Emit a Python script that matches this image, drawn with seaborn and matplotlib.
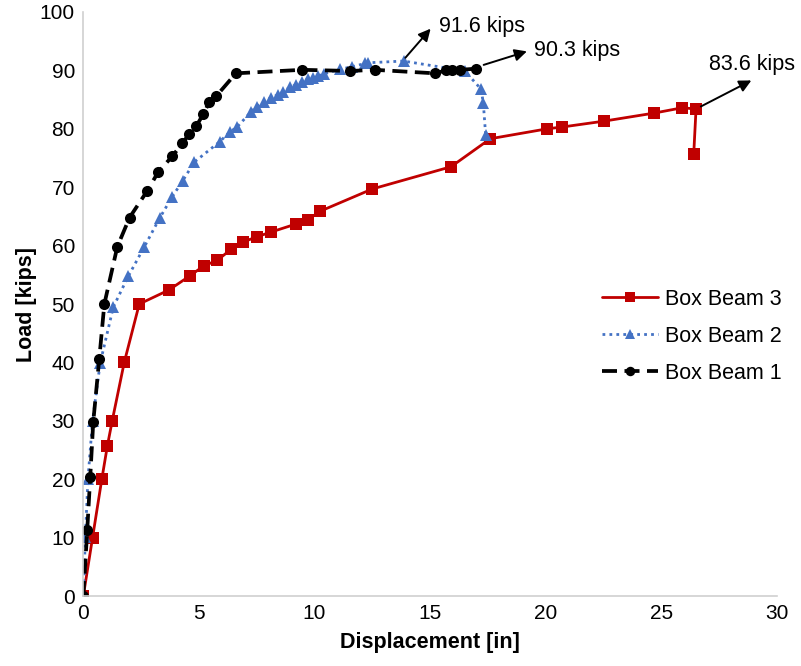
import seaborn as sns
import pandas as pd
import matplotlib.pyplot as plt

sns.set_style("white")
plt.rcParams['font.family'] = ['Liberation Sans', 'DejaVu Sans']
plt.rcParams['text.color'] = 'black'
plt.rcParams['axes.labelcolor'] = 'black'
plt.rcParams['xtick.color'] = 'black'
plt.rcParams['ytick.color'] = 'black'

# Box Beam 3 (red squares, solid)
bb3_disp = [0, 0.4, 0.8, 1.04, 1.25, 1.77, 2.42, 3.7, 4.6, 5.2, 5.8, 6.4, 6.9, 7.5, 8.1,
            9.2, 9.7, 10.25, 12.5, 15.9, 17.6, 20.06, 20.7, 22.5, 24.7, 25.9, 26.5, 26.4]
bb3_load = [0, 10, 20, 25.7, 30, 40, 50, 52.4, 54.8, 56.5, 57.5, 59.4, 60.6, 61.5, 62.3,
            63.7, 64.4, 65.9, 69.7, 73.5, 78.3, 80.0, 80.3, 81.3, 82.7, 83.6, 83.4, 75.7]

# Box Beam 2 (blue triangles, dotted)
bb2_disp = [0, 0.09, 0.2, 0.4, 0.73, 1.3, 1.95, 2.64, 3.3, 3.85, 4.3, 4.8, 5.9, 6.35, 6.65,
            7.25, 7.5, 7.8, 8.1, 8.4, 8.65, 8.95, 9.2, 9.45, 9.7, 9.95, 10.15, 10.4, 11.1,
            11.6, 12.2, 12.3, 13.85, 16.5, 17.2, 17.3, 17.4]
bb2_load = [0, 10.1, 20, 30, 39.9, 49.5, 54.8, 59.8, 64.7, 68.4, 71.1, 74.3, 77.8, 79.5, 80.3,
            82.9, 83.8, 84.6, 85.3, 85.8, 86.3, 87.2, 87.5, 88.0, 88.5, 88.7, 89.0, 89.4, 90.2,
            90.6, 91.2, 91.3, 91.6, 89.9, 86.8, 84.4, 79.0]

# Box Beam 1 (black circles, dashed)
bb1_disp = [0, 0.17, 0.3, 0.43, 0.69, 0.91, 1.47, 2.0, 2.77, 3.24, 3.85, 4.28, 4.58, 4.89,
            5.19, 5.45, 5.75, 6.6, 9.47, 11.55, 12.6, 15.2, 15.7, 15.95, 16.3, 17.0]
bb1_load = [0, 11.3, 20.4, 29.8, 40.6, 50, 59.8, 64.8, 69.4, 72.6, 75.3, 77.5, 79.1, 80.5,
            82.5, 84.6, 85.6, 89.5, 90.1, 89.9, 90.1, 89.5, 90.0, 90.0, 90.1, 90.3]

df3 = pd.DataFrame({"Displacement": bb3_disp, "Load": bb3_load})
df2 = pd.DataFrame({"Displacement": bb2_disp, "Load": bb2_load})
df1 = pd.DataFrame({"Displacement": bb1_disp, "Load": bb1_load})

fig, ax = plt.subplots(figsize=(8.01, 6.66), dpi=100)
fig.subplots_adjust(left=0.104, right=0.970, top=0.982, bottom=0.105)

sns.lineplot(data=df3, x="Displacement", y="Load", sort=False, ax=ax, color="#C00000",
             linewidth=2, marker="s", markersize=8, markeredgewidth=0, label="Box Beam 3")
sns.lineplot(data=df2, x="Displacement", y="Load", sort=False, ax=ax, color="#4472C4",
             linewidth=2, linestyle=(0, (1, 1.5)), marker="^", markersize=8.5,
             markeredgewidth=0, label="Box Beam 2")
sns.lineplot(data=df1, x="Displacement", y="Load", sort=False, ax=ax, color="black",
             linewidth=2.7, linestyle=(0, (4, 2)), marker="o", markersize=8,
             markeredgewidth=0, label="Box Beam 1")

arrow = dict(arrowstyle="-|>", color="black", lw=1.4, mutation_scale=18)
ax.annotate("", xy=(15.1, 97.5), xytext=(13.85, 91.8), arrowprops=arrow)
ax.text(15.4, 97.5, "91.6 kips", fontsize=15.5, va="center", ha="left")
ax.annotate("", xy=(19.3, 93.4), xytext=(17.2, 90.8), arrowprops=arrow)
ax.text(19.5, 93.4, "90.3 kips", fontsize=15.5, va="center", ha="left")
ax.annotate("", xy=(29.0, 88.5), xytext=(26.6, 83.6), arrowprops=arrow)
ax.text(28.9, 91.0, "83.6 kips", fontsize=15.5, va="center", ha="center")

ax.set_xlim(0, 30)
ax.set_ylim(0, 100)
ax.set_xticks(range(0, 31, 5))
ax.set_yticks(range(0, 101, 10))
ax.tick_params(labelsize=15, length=0, pad=6)
ax.set_xlabel("Displacement [in]", fontsize=15.5, fontweight="bold", labelpad=6)
ax.set_ylabel("Load [kips]", fontsize=15.5, fontweight="bold", labelpad=2)
for side in ["top", "right"]:
    ax.spines[side].set_visible(False)
for side in ["left", "bottom"]:
    ax.spines[side].set_color("#D0D0D0")
    ax.spines[side].set_linewidth(1.2)

ax.legend(loc="center left", bbox_to_anchor=(0.72, 0.445), frameon=False, fontsize=15.5,
          handlelength=2.6, handletextpad=0.3, labelspacing=0.75, markerscale=0.85)

plt.savefig("out.png", dpi=100)
